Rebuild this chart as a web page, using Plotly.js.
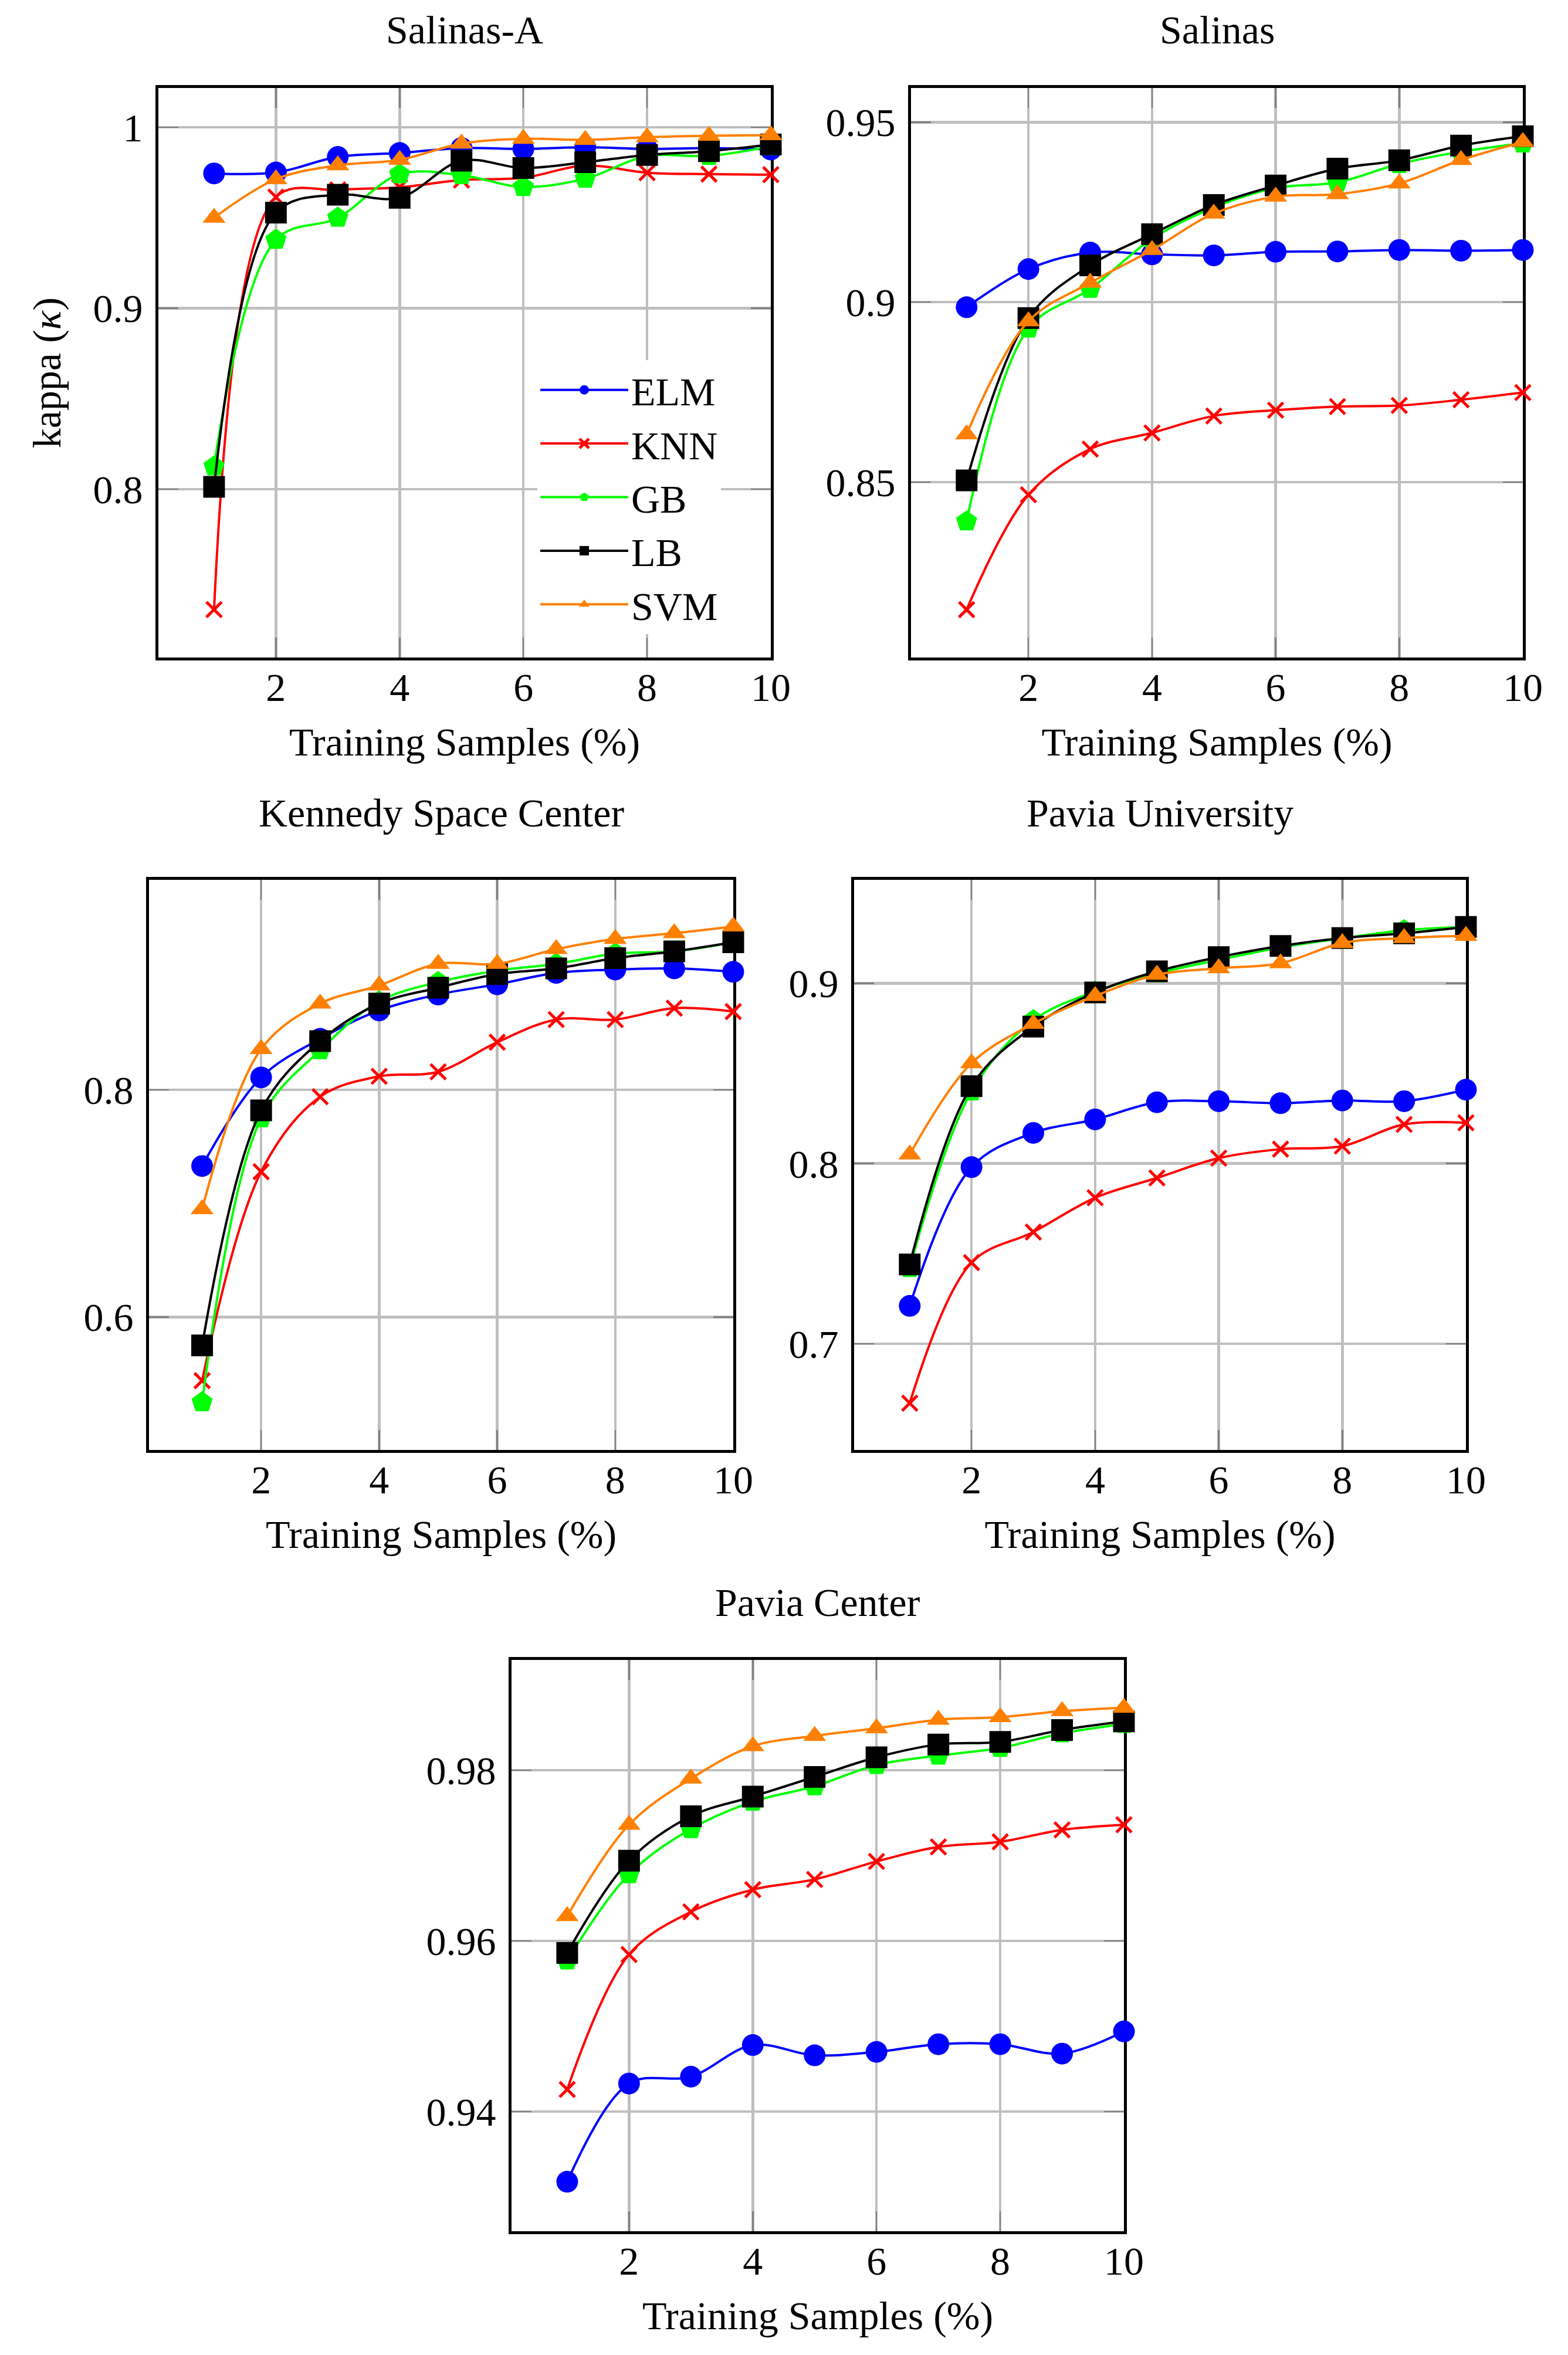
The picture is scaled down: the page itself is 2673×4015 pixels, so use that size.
<!DOCTYPE html>
<html>
<head>
<meta charset="utf-8">
<script src="https://cdn.plot.ly/plotly-3.0.1.min.js"></script>
<style>html,body{margin:0;padding:0;background:#ffffff;}</style>
</head>
<body>
<div id="chart" style="width:2673px;height:4015px;"></div>
<script>
// ---------------- DATA ----------------
const trainingSamples = [1, 2, 3, 4, 5, 6, 7, 8, 9, 10];
const methodNames = ['ELM', 'KNN', 'GB', 'LB', 'SVM'];
const panelTitles = ['Salinas-A', 'Salinas', 'Kennedy Space Center', 'Pavia University', 'Pavia Center'];

// Salinas-A
const salinasA_ELM = [0.9745, 0.975, 0.9836, 0.9858, 0.9885, 0.988, 0.989, 0.988, 0.9885, 0.9877];
const salinasA_KNN = [0.7335, 0.9614, 0.9654, 0.9668, 0.9708, 0.9721, 0.9788, 0.9749, 0.9741, 0.9738];
const salinasA_GB  = [0.8126, 0.9378, 0.950, 0.974, 0.9735, 0.967, 0.9716, 0.984, 0.9842, 0.9894];
const salinasA_LB  = [0.8013, 0.9528, 0.9627, 0.961, 0.9815, 0.9775, 0.9807, 0.9847, 0.9868, 0.9905];
const salinasA_SVM = [0.950, 0.9713, 0.979, 0.982, 0.991, 0.9936, 0.993, 0.9945, 0.9953, 0.9956];

// Salinas
const salinas_ELM = [0.8986, 0.9092, 0.9138, 0.9133, 0.913, 0.914, 0.9141, 0.9145, 0.9143, 0.9145];
const salinas_KNN = [0.8146, 0.8465, 0.8592, 0.8637, 0.8684, 0.870, 0.871, 0.8713, 0.8729, 0.8749];
const salinas_GB  = [0.8391, 0.8927, 0.9037, 0.9176, 0.9263, 0.9317, 0.9333, 0.9384, 0.9418, 0.9441];
const salinas_LB  = [0.8505, 0.8956, 0.9102, 0.9189, 0.927, 0.9324, 0.9371, 0.9394, 0.9435, 0.9461];
const salinas_SVM = [0.8633, 0.8947, 0.9054, 0.9145, 0.9246, 0.9293, 0.930, 0.933, 0.9395, 0.9445];

// Kennedy Space Center
const ksc_ELM = [0.733, 0.811, 0.845, 0.870, 0.884, 0.893, 0.903, 0.906, 0.907, 0.904];
const ksc_KNN = [0.544, 0.728, 0.794, 0.812, 0.816, 0.842, 0.862, 0.862, 0.872, 0.869];
const ksc_GB  = [0.525, 0.775, 0.835, 0.878, 0.895, 0.905, 0.911, 0.920, 0.922, 0.930];
const ksc_LB  = [0.575, 0.782, 0.843, 0.876, 0.890, 0.902, 0.907, 0.916, 0.922, 0.930];
const ksc_SVM = [0.695, 0.836, 0.876, 0.892, 0.911, 0.911, 0.924, 0.933, 0.938, 0.944];

// Pavia University
const paviaU_ELM = [0.721, 0.798, 0.817, 0.8245, 0.834, 0.8346, 0.8335, 0.835, 0.8346, 0.841];
const paviaU_KNN = [0.667, 0.745, 0.762, 0.781, 0.792, 0.803, 0.808, 0.8097, 0.8217, 0.8226];
const paviaU_GB  = [0.742, 0.840, 0.8795, 0.8955, 0.9056, 0.913, 0.920, 0.925, 0.9295, 0.9314];
const paviaU_LB  = [0.744, 0.843, 0.876, 0.895, 0.9067, 0.9146, 0.9208, 0.9252, 0.9278, 0.9314];
const paviaU_SVM = [0.805, 0.8557, 0.8776, 0.893, 0.9048, 0.9084, 0.9112, 0.9224, 0.9252, 0.9264];

// Pavia Center
const paviaC_ELM = [0.9318, 0.9433, 0.9441, 0.9478, 0.9466, 0.9470, 0.9479, 0.9479, 0.9468, 0.9494];
const paviaC_KNN = [0.9426, 0.9584, 0.9634, 0.966, 0.9672, 0.9693, 0.971, 0.9716, 0.973, 0.9736];
const paviaC_GB  = [0.9577, 0.9678, 0.9731, 0.9763, 0.9781, 0.9806, 0.9817, 0.9826, 0.9843, 0.9854];
const paviaC_LB  = [0.9586, 0.9694, 0.9746, 0.9769, 0.9792, 0.9815, 0.983, 0.9833, 0.9847, 0.9857];
const paviaC_SVM = [0.9629, 0.9736, 0.979, 0.9828, 0.984, 0.9849, 0.9859, 0.9862, 0.9869, 0.9873];

// Tick values / labels
const xTickVals = [2, 4, 6, 8, 10];
const xTickText = ['2', '4', '6', '8', '10'];
const yTicksSalinasA = [0.8, 0.9, 1];
const yTextSalinasA = ['0.8', '0.9', '1'];
const yTicksSalinas = [0.85, 0.9, 0.95];
const yTextSalinas = ['0.85', '0.9', '0.95'];
const yTicksKSC = [0.6, 0.8];
const yTextKSC = ['0.6', '0.8'];
const yTicksPaviaU = [0.7, 0.8, 0.9];
const yTextPaviaU = ['0.7', '0.8', '0.9'];
const yTicksPaviaC = [0.94, 0.96, 0.98];
const yTextPaviaC = ['0.94', '0.96', '0.98'];

// ---------------- STYLE ----------------
const W = 2673, H = 4015;
const FONT = 'Liberation Serif, Times New Roman, serif';
const FS = 68;
const colors = ['#0000ff', '#ff0000', '#00ff00', '#000000', '#ff8000'];
const symbols = ['circle', 'x-thin', 'pentagon', 'square', 'triangle-up'];
const msizes = [37, 26, 38, 37, 34];

// panel boxes in pixels [left, right, top, bottom]
const boxes = [
  [270, 1314, 150, 1121],
  [1553, 2596, 150, 1121],
  [254, 1250, 1500, 2472],
  [1456, 2499, 1500, 2472],
  [872, 1916, 2830, 3804]
];
const yRanges = [
  [0.707, 1.0217],
  [0.8013, 0.9595],
  [0.483, 0.985],
  [0.641, 0.9575],
  [0.926, 0.9929]
];
const titleY = [51, 51, 1386, 1386, 2732];

const panelSeries = [
  [salinasA_ELM, salinasA_KNN, salinasA_GB, salinasA_LB, salinasA_SVM],
  [salinas_ELM, salinas_KNN, salinas_GB, salinas_LB, salinas_SVM],
  [ksc_ELM, ksc_KNN, ksc_GB, ksc_LB, ksc_SVM],
  [paviaU_ELM, paviaU_KNN, paviaU_GB, paviaU_LB, paviaU_SVM],
  [paviaC_ELM, paviaC_KNN, paviaC_GB, paviaC_LB, paviaC_SVM]
];
const yTickSets = [
  [yTicksSalinasA, yTextSalinasA],
  [yTicksSalinas, yTextSalinas],
  [yTicksKSC, yTextKSC],
  [yTicksPaviaU, yTextPaviaU],
  [yTicksPaviaC, yTextPaviaC]
];

const traces = [];
const layout = {
  width: W, height: H,
  margin: {l: 0, r: 0, t: 0, b: 0, pad: 0},
  paper_bgcolor: '#ffffff',
  plot_bgcolor: '#ffffff',
  font: {family: FONT, size: FS, color: '#000000'},
  showlegend: true,
  legend: {
    x: 916 / W, xanchor: 'left',
    y: 1 - 614 / H, yanchor: 'top',
    bgcolor: '#ffffff', borderwidth: 0,
    font: {family: FONT, size: FS, color: '#000000'},
    itemwidth: 150,
    tracegroupgap: 0,
    traceorder: 'normal'
  },
  annotations: []
};

function axisBase() {
  return {
    showline: true, linecolor: '#000000', linewidth: 5, mirror: 'ticks',
    ticks: 'inside', ticklen: 34, tickwidth: 2.5, tickcolor: '#808080',
    showgrid: true, gridcolor: '#bfbfbf', gridwidth: 4.5,
    zeroline: false, fixedrange: true, automargin: false,
    layer: 'below traces',
    tickfont: {family: FONT, size: FS, color: '#000000'},
    tickmode: 'array'
  };
}

for (let p = 0; p < 5; p++) {
  const b = boxes[p];
  const sfx = p === 0 ? '' : String(p + 1);
  const xa = Object.assign(axisBase(), {
    domain: [b[0] / W, b[1] / W],
    anchor: 'y' + sfx,
    range: [0.1, 10],
    tickvals: xTickVals, ticktext: xTickText,
    ticklabelstandoff: -13,
    title: {text: 'Training Samples (%)', font: {family: FONT, size: FS, color: '#000000'}, standoff: 33}
  });
  const ya = Object.assign(axisBase(), {
    domain: [1 - b[3] / H, 1 - b[2] / H],
    anchor: 'x' + sfx,
    range: yRanges[p],
    tickvals: yTickSets[p][0], ticktext: yTickSets[p][1],
    ticklabelstandoff: 8
  });
  if (p === 0) {
    ya.title = {text: 'kappa (<i>κ</i>)', font: {family: FONT, size: FS, color: '#000000'}, standoff: 34};
  }
  layout['xaxis' + sfx] = xa;
  layout['yaxis' + sfx] = ya;

  layout.annotations.push({
    text: panelTitles[p], xref: 'paper', yref: 'paper',
    x: (b[0] + b[1]) / 2 / W, y: 1 - titleY[p] / H,
    xanchor: 'center', yanchor: 'middle', showarrow: false,
    font: {family: FONT, size: FS, color: '#000000'}
  });

  for (let m = 0; m < 5; m++) {
    const marker = {symbol: symbols[m], size: msizes[m], color: colors[m], line: {width: 0, color: colors[m]}};
    if (symbols[m] === 'x-thin') marker.line = {width: 5, color: colors[m]};
    traces.push({
      type: 'scatter', mode: 'lines+markers',
      x: trainingSamples, y: panelSeries[p][m],
      xaxis: 'x' + sfx, yaxis: 'y' + sfx,
      name: methodNames[m], legendgroup: methodNames[m],
      showlegend: p === 0,
      line: {color: colors[m], width: 4, shape: 'spline', smoothing: 1},
      marker: marker,
      cliponaxis: false,
      hoverinfo: 'x+y+name'
    });
  }
}

Plotly.newPlot('chart', traces, layout, {staticPlot: true, displayModeBar: false});
</script>
</body>
</html>
